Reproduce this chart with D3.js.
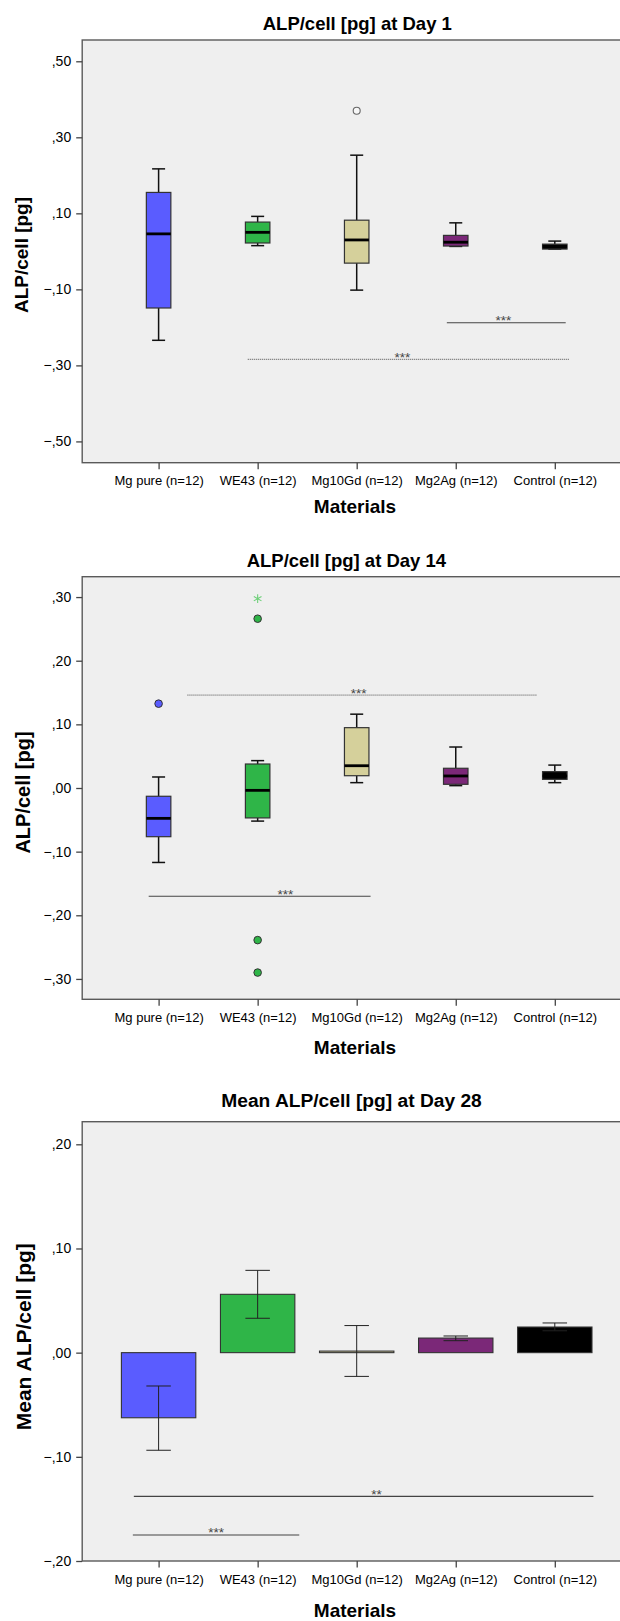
<!DOCTYPE html>
<html><head><meta charset="utf-8">
<script src="https://cdn.jsdelivr.net/npm/d3@7"></script>
<style>
body{margin:0;background:#fff;}
svg{display:block;font-family:"Liberation Sans",Arial,sans-serif;}
</style></head>
<body><svg id="c" width="620" height="1621"></svg>
<script>
// ---------- DATA ----------
const categories = ["Mg pure (n=12)", "WE43 (n=12)", "Mg10Gd (n=12)", "Mg2Ag (n=12)", "Control (n=12)"];
const colors = ["#5a5cff", "#2fb548", "#d5d09b", "#7b2878", "#000000"];

// Day 1 box plot
const d1Min    = [-0.234, 0.015, -0.102, 0.013, 0.006];
const d1Q1     = [-0.149, 0.022, -0.031, 0.014, 0.006];
const d1Median = [ 0.046, 0.050,  0.030, 0.024, 0.013];
const d1Q3     = [ 0.155, 0.077,  0.082, 0.042, 0.019];
const d1Max    = [ 0.217, 0.092,  0.253, 0.075, 0.027];
const d1Outliers = [{cat: 2, value: 0.370, type: "open"}];
const d1Ticks = [-0.5, -0.3, -0.1, 0.1, 0.3, 0.5];
const d1Sig = [
  {from: 2.91, to: 4.11, labelAt: 3.48, value: -0.188, label: "***", dotted: false},
  {from: 0.90, to: 4.15, labelAt: 2.46, value: -0.284, label: "***", dotted: true}
];

// Day 14 box plot
const d14Min    = [-0.117, -0.052, 0.0084, 0.0037, 0.0084];
const d14Q1     = [-0.0765, -0.047, 0.0193, 0.0058, 0.0136];
const d14Median = [-0.0477, -0.0037, 0.035, 0.0189, 0.019];
const d14Q3     = [-0.013, 0.0377, 0.0948, 0.031, 0.0257];
const d14Max    = [ 0.0173, 0.043, 0.116, 0.0644, 0.036];
const d14Outliers = [
  {cat: 0, value: 0.1325, type: "circle"},
  {cat: 1, value: 0.266, type: "circle"},
  {cat: 1, value: -0.239, type: "circle"},
  {cat: 1, value: -0.290, type: "circle"},
  {cat: 1, value: 0.2975, type: "star"}
];
const d14Ticks = [-0.3, -0.2, -0.1, 0.0, 0.1, 0.2, 0.3];
const d14Sig = [
  {from: 0.29, to: 3.82, labelAt: 2.02, value: 0.146, label: "***", dotted: true},
  {from: -0.10, to: 2.14, labelAt: 1.28, value: -0.170, label: "***", dotted: false}
];

// Day 28 bar chart (mean with error bars)
const d28Mean    = [-0.0625, 0.056, 0.0015, 0.014, 0.0246];
const d28ErrLow  = [-0.0937, 0.033, -0.0228, 0.0115, 0.021];
const d28ErrHigh = [-0.032, 0.079, 0.026, 0.016, 0.0285];
const d28Ticks = [-0.2, -0.1, 0.0, 0.1, 0.2];
const d28Sig = [
  {from: -0.25, to: 4.39, labelAt: 2.20, value: -0.138, label: "**", dotted: false},
  {from: -0.26, to: 1.42, labelAt: 0.58, value: -0.175, label: "***", dotted: false}
];

const titles = ["ALP/cell [pg] at Day 1", "ALP/cell [pg] at Day 14", "Mean ALP/cell [pg] at Day 28"];
const yTitles = ["ALP/cell [pg]", "ALP/cell [pg]", "Mean ALP/cell [pg]"];
const xTitle = "Materials";

// ---------- LAYOUT ----------
const svg = d3.select("#c");
const plotLeft = 82.2, plotRight = 631;
const x = d3.scalePoint().domain(categories).range([158.6, 554.8]);
const xi = d3.scaleLinear().domain([0, categories.length - 1]).range([158.6, 554.8]);

function fmt(v) {
  let s = d3.format(".2f")(Math.abs(v) < 1e-9 ? 0 : v);
  return s.replace("0.", ",");
}

function panel(cfg) {
  const g = svg.append("g");
  const y = d3.scaleLinear().domain(cfg.domain).range([cfg.bottom, cfg.top]);
  g.append("rect").attr("x", plotLeft).attr("y", cfg.top)
    .attr("width", plotRight - plotLeft).attr("height", cfg.bottom - cfg.top)
    .attr("fill", "#efefef").attr("stroke", "#5a5a5a").attr("stroke-width", 1.4);
  g.append("text").attr("x", cfg.titleX).attr("y", cfg.titleY)
    .attr("text-anchor", "middle").attr("font-size", cfg.titleSize).attr("font-weight", "bold")
    .attr("fill", "#000").text(cfg.title);
  const ya = g.append("g").attr("transform", `translate(${plotLeft},0)`)
    .call(d3.axisLeft(y).tickValues(cfg.ticks).tickFormat(fmt).tickSize(6).tickPadding(5));
  ya.select(".domain").remove();
  ya.selectAll(".tick line").attr("stroke", "#444").attr("stroke-width", 1.3);
  ya.selectAll(".tick text").attr("font-size", 14).attr("font-family", "Liberation Sans, Arial").attr("fill", "#000");
  const xa = g.append("g").attr("transform", `translate(0,${cfg.bottom})`)
    .call(d3.axisBottom(x).tickSize(6.5).tickPadding(7));
  xa.select(".domain").remove();
  xa.selectAll(".tick line").attr("stroke", "#444").attr("stroke-width", 1.3);
  xa.selectAll(".tick text").attr("font-size", 13).attr("font-family", "Liberation Sans, Arial").attr("fill", "#000");
  g.append("text").attr("transform", `translate(${cfg.yTitleX},${cfg.yTitleY}) rotate(-90)`)
    .attr("text-anchor", "middle").attr("font-size", cfg.yTitleSize).attr("font-weight", "bold").text(cfg.yTitle);
  g.append("text").attr("x", 355).attr("y", cfg.xTitleY).attr("text-anchor", "middle")
    .attr("font-size", 19).attr("font-weight", "bold").text(xTitle);
  return {g, y};
}

function sigLines(g, y, sig) {
  sig.forEach(s => {
    g.append("line").attr("x1", xi(s.from)).attr("x2", xi(s.to))
      .attr("y1", y(s.value)).attr("y2", y(s.value))
      .attr("stroke", s.dotted ? "#666" : "#444").attr("stroke-width", s.dotted ? 1 : 1.1)
      .attr("stroke-dasharray", s.dotted ? "1.2,0.8" : null);
    g.append("text").attr("x", xi(s.labelAt)).attr("y", y(s.value) + 2.5)
      .attr("text-anchor", "middle").attr("font-size", 13.5).attr("fill", "#444").text(s.label);
  });
}

function boxes(g, y, mn, q1, md, q3, mx, outliers) {
  const bw = 24.5, cw = 13;
  categories.forEach((c, i) => {
    const cx = x(c);
    const gg = g.append("g");
    gg.append("line").attr("x1", cx).attr("x2", cx).attr("y1", y(mx[i])).attr("y2", y(q3[i]))
      .attr("stroke", "#111").attr("stroke-width", 1.5);
    gg.append("line").attr("x1", cx).attr("x2", cx).attr("y1", y(q1[i])).attr("y2", y(mn[i]))
      .attr("stroke", "#111").attr("stroke-width", 1.5);
    gg.append("line").attr("x1", cx - cw / 2).attr("x2", cx + cw / 2).attr("y1", y(mx[i])).attr("y2", y(mx[i]))
      .attr("stroke", "#111").attr("stroke-width", 1.5);
    gg.append("line").attr("x1", cx - cw / 2).attr("x2", cx + cw / 2).attr("y1", y(mn[i])).attr("y2", y(mn[i]))
      .attr("stroke", "#111").attr("stroke-width", 1.5);
    const top = y(q3[i]), bot = y(q1[i]);
    gg.append("rect").attr("x", cx - bw / 2).attr("y", top).attr("width", bw)
      .attr("height", Math.max(bot - top, 1.5))
      .attr("fill", colors[i]).attr("stroke", "#333").attr("stroke-width", 1.2);
    gg.append("line").attr("x1", cx - bw / 2).attr("x2", cx + bw / 2).attr("y1", y(md[i])).attr("y2", y(md[i]))
      .attr("stroke", "#000").attr("stroke-width", 2.8);
  });
  outliers.forEach(o => {
    const cx = xi(o.cat), cy = y(o.value);
    if (o.type === "star") {
      g.append("path").attr("transform", `translate(${cx},${cy})`)
        .attr("d", d3.symbol(d3.symbolAsterisk, 55)())
        .attr("stroke", "#6fd07a").attr("stroke-width", 1.1).attr("fill", "none");
    } else if (o.type === "open") {
      g.append("circle").attr("cx", cx).attr("cy", cy).attr("r", 3.5)
        .attr("fill", "#f7f7f7").attr("stroke", "#666").attr("stroke-width", 1.1);
    } else {
      g.append("circle").attr("cx", cx).attr("cy", cy).attr("r", 3.8)
        .attr("fill", colors[o.cat]).attr("stroke", "#333").attr("stroke-width", 1);
    }
  });
}

// Panel 1
const p1 = panel({top: 40, bottom: 462.7, domain: [-0.556, 0.556], ticks: d1Ticks,
  title: titles[0], titleX: 357.3, titleY: 30, titleSize: 18.5,
  yTitle: yTitles[0], yTitleX: 28, yTitleY: 255, yTitleSize: 19, xTitleY: 513});
boxes(p1.g, p1.y, d1Min, d1Q1, d1Median, d1Q3, d1Max, d1Outliers);
sigLines(p1.g, p1.y, d1Sig);

// Panel 2
const p2 = panel({top: 576.7, bottom: 999.3, domain: [-0.332, 0.332], ticks: d14Ticks,
  title: titles[1], titleX: 346.4, titleY: 566.7, titleSize: 18.5,
  yTitle: yTitles[1], yTitleX: 30, yTitleY: 792.5, yTitleSize: 20, xTitleY: 1053.5});
boxes(p2.g, p2.y, d14Min, d14Q1, d14Median, d14Q3, d14Max, d14Outliers);
sigLines(p2.g, p2.y, d14Sig);

// Panel 3
const p3 = panel({top: 1121.7, bottom: 1561, domain: [-0.2, 0.2217], ticks: d28Ticks,
  title: titles[2], titleX: 351.5, titleY: 1107.3, titleSize: 19.2,
  yTitle: yTitles[2], yTitleX: 31, yTitleY: 1336.7, yTitleSize: 21, xTitleY: 1616.5});
(function () {
  const g = p3.g, y = p3.y, bw = 74.4, cw = 24.5;
  categories.forEach((c, i) => {
    const cx = x(c);
    const a = y(0), b = y(d28Mean[i]);
    g.append("rect").attr("x", cx - bw / 2).attr("y", Math.min(a, b)).attr("width", bw)
      .attr("height", Math.max(Math.abs(a - b), 1.5))
      .attr("fill", colors[i]).attr("stroke", "#333").attr("stroke-width", 1.1);
    const lo = y(d28ErrLow[i]), hi = y(d28ErrHigh[i]);
    g.append("line").attr("x1", cx).attr("x2", cx).attr("y1", lo).attr("y2", hi)
      .attr("stroke", "#222").attr("stroke-width", 1);
    [lo, hi].forEach(v => g.append("line").attr("x1", cx - cw / 2).attr("x2", cx + cw / 2)
      .attr("y1", v).attr("y2", v).attr("stroke", "#222").attr("stroke-width", 1));
  });
  sigLines(g, y, d28Sig);
})();
</script></body></html>
